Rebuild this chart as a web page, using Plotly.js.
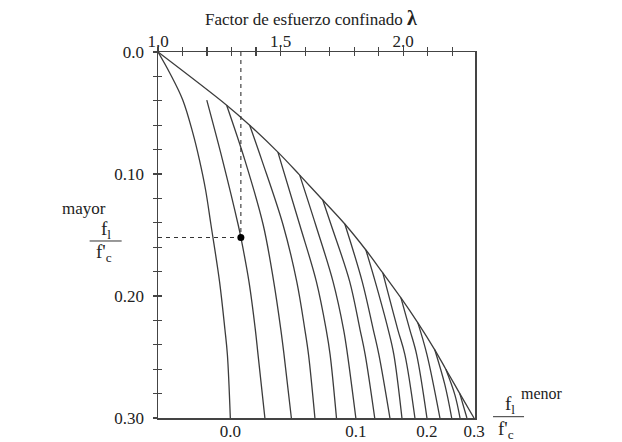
<!DOCTYPE html>
<html>
<head>
<meta charset="utf-8">
<script src="https://cdn.plot.ly/plotly-3.0.1.min.js"></script>
<style>
html,body{margin:0;padding:0;background:#fff;}
#chart{width:622px;height:442px;}
</style>
</head>
<body>
<div id="chart"></div>
<script>
// ---- data (x = confined strength factor λ, y = larger confining stress ratio) ----
const minorRatios = [0, 0.02, 0.04, 0.06, 0.08, 0.10, 0.12, 0.14, 0.16, 0.18, 0.20, 0.22, 0.24, 0.26, 0.28];

const curveLambda = [
  [1.000, 1.048, 1.101, 1.142, 1.169, 1.194, 1.216, 1.251, 1.273, 1.283, 1.295],
  [1.199, 1.263, 1.327, 1.338, 1.371, 1.397, 1.408, 1.436],
  [1.280, 1.354, 1.429, 1.472, 1.501, 1.514, 1.544],
  [1.374, 1.423, 1.510, 1.566, 1.599, 1.614, 1.640],
  [1.489, 1.578, 1.646, 1.686, 1.702, 1.728],
  [1.578, 1.643, 1.714, 1.757, 1.773, 1.807],
  [1.672, 1.706, 1.782, 1.824, 1.845, 1.884],
  [1.762, 1.833, 1.878, 1.901, 1.946],
  [1.848, 1.886, 1.939, 1.962, 1.995],
  [1.917, 1.978, 2.007, 2.048],
  [1.991, 2.027, 2.055, 2.097],
  [2.060, 2.097, 2.150],
  [2.129, 2.170, 2.198],
  [2.174, 2.211, 2.232],
  [2.231, 2.260]
];
const curveMajor = [
  [0.000, 0.0172, 0.0393, 0.0663, 0.0884, 0.1129, 0.1416, 0.1882, 0.2275, 0.2480, 0.300],
  [0.0395, 0.0884, 0.1416, 0.1520, 0.1882, 0.2275, 0.2480, 0.300],
  [0.0436, 0.0884, 0.1416, 0.1882, 0.2275, 0.2480, 0.300],
  [0.0600, 0.0884, 0.1416, 0.1882, 0.2275, 0.2480, 0.300],
  [0.0821, 0.1416, 0.1882, 0.2275, 0.2480, 0.300],
  [0.1009, 0.1416, 0.1882, 0.2275, 0.2480, 0.300],
  [0.1213, 0.1416, 0.1882, 0.2275, 0.2480, 0.300],
  [0.1410, 0.1882, 0.2275, 0.2480, 0.300],
  [0.1623, 0.1882, 0.2275, 0.2480, 0.300],
  [0.1811, 0.2275, 0.2480, 0.300],
  [0.2016, 0.2275, 0.2480, 0.300],
  [0.2220, 0.2480, 0.300],
  [0.2441, 0.2727, 0.300],
  [0.2600, 0.2810, 0.300],
  [0.2800, 0.300]
];

const envelopeLambda = [1.000, 1.280, 1.374, 1.489, 1.578, 1.672, 1.762, 1.848, 1.917, 1.991, 2.060, 2.129, 2.174, 2.231, 2.289];
const envelopeMajor  = [0.000, 0.0436, 0.0600, 0.0821, 0.1009, 0.1213, 0.1410, 0.1623, 0.1811, 0.2016, 0.2220, 0.2441, 0.2600, 0.2800, 0.300];

const exampleLambda = 1.338;
const exampleMajor = 0.152;

const topTickVals = [1.0, 1.1, 1.2, 1.3, 1.4, 1.5, 1.6, 1.7, 1.8, 1.9, 2.0, 2.1, 2.2];
const topTickText = ["1.0", "", "", "", "", "1.5", "", "", "", "", "2.0", "", ""];
const leftTickVals = [0, 0.02, 0.04, 0.06, 0.08, 0.10, 0.12, 0.14, 0.16, 0.18, 0.20, 0.22, 0.24, 0.26, 0.28, 0.30];
const leftTickText = ["0.0", "", "", "", "", "0.10", "", "", "", "", "0.20", "", "", "", "", "0.30"];
const bottomTickRatios = [0, 0.1, 0.2, 0.3];
const bottomTickText = ["0.0", "0.1", "0.2", "0.3"];

// ---- build ----
const lineColor = '#3c3c3c';
const axisColor = '#444';
const fontFam = 'Liberation Serif';
const traces = [];

traces.push({
  x: envelopeLambda, y: envelopeMajor, type: 'scatter', mode: 'lines',
  line: {color: lineColor, width: 1.3, shape: 'spline', smoothing: 1},
  hoverinfo: 'skip', showlegend: false
});
curveLambda.forEach((lx, i) => {
  traces.push({
    x: lx, y: curveMajor[i], type: 'scatter', mode: 'lines',
    name: 'menor ' + minorRatios[i],
    line: {color: lineColor, width: 1.3, shape: 'spline', smoothing: 1},
    hoverinfo: 'skip', showlegend: false
  });
});
// dashed guides to the example point
traces.push({x: [exampleLambda, exampleLambda], y: [0, exampleMajor], type: 'scatter', mode: 'lines',
  line: {color: '#333', width: 1.1, dash: '4px,4px'}, hoverinfo: 'skip', showlegend: false});
traces.push({x: [1.0, exampleLambda], y: [exampleMajor, exampleMajor], type: 'scatter', mode: 'lines',
  line: {color: '#333', width: 1.1, dash: '4px,4px'}, hoverinfo: 'skip', showlegend: false});
traces.push({x: [exampleLambda], y: [exampleMajor], type: 'scatter', mode: 'markers',
  marker: {color: '#000', size: 7}, hoverinfo: 'skip', showlegend: false});
// empty traces to activate helper axes
traces.push({x: [], y: [], xaxis: 'x2', yaxis: 'y', showlegend: false, hoverinfo: 'skip'});
traces.push({x: [], y: [], xaxis: 'x3', yaxis: 'y2', showlegend: false, hoverinfo: 'skip'});

// bottom tick positions = where the labelled curves reach the bottom
const bottomTickVals = bottomTickRatios.map(r => {
  const idx = minorRatios.findIndex(m => Math.abs(m - r) < 1e-9);
  if (idx >= 0) { const a = curveLambda[idx]; return a[a.length - 1]; }
  return envelopeLambda[envelopeLambda.length - 1];
});

const X0 = 158.3, X1 = 475, Y0 = 51.7, Y1 = 418.3;
const px = X => (X - X0) / (X1 - X0);
const py = Y => (Y1 - Y) / (Y1 - Y0);
const lamMax = envelopeLambda[envelopeLambda.length - 1] + 0.004;

const txt = (t, X, Y, size, anchor) => ({
  text: t, xref: 'paper', yref: 'paper', x: px(X), y: py(Y),
  xanchor: anchor || 'center', yanchor: 'middle', showarrow: false,
  font: {family: fontFam, size: size, color: '#222'}
});

const layout = {
  width: 622, height: 442,
  margin: {l: X0, r: 622 - X1, t: Y0, b: 442 - Y1, pad: 0},
  paper_bgcolor: '#fff', plot_bgcolor: '#fff',
  showlegend: false,
  font: {family: fontFam, size: 17, color: '#222'},
  xaxis: {
    side: 'top', range: [1.0, lamMax], tickmode: 'array', tickvals: topTickVals, ticktext: topTickText,
    ticks: 'inside', ticklen: 4, tickwidth: 1.2, tickcolor: axisColor,
    showline: true, linecolor: axisColor, linewidth: 1.5, mirror: true,
    showgrid: false, zeroline: false, ticklabelstandoff: -3, tickfont: {family: fontFam, size: 17, color: '#222'}
  },
  xaxis2: {
    overlaying: 'x', side: 'bottom', anchor: 'y', range: [1.0, lamMax], tickmode: 'array',
    tickvals: bottomTickVals, ticktext: bottomTickText, ticks: '', showline: false,
    showgrid: false, zeroline: false, ticklabelstandoff: 1, tickfont: {family: fontFam, size: 17, color: '#222'}
  },
  xaxis3: {
    overlaying: 'x', side: 'top', anchor: 'y2', range: [1.0, lamMax], tickmode: 'array',
    tickvals: topTickVals, ticks: 'outside', ticklen: 4, tickwidth: 1.2, tickcolor: axisColor,
    showticklabels: false, showline: false, showgrid: false, zeroline: false
  },
  yaxis: {
    range: [0.3, 0], tickmode: 'array', tickvals: leftTickVals, ticktext: leftTickText,
    ticks: 'outside', ticklen: 4, tickwidth: 1.2, tickcolor: axisColor,
    showline: true, linecolor: axisColor, linewidth: 1.5, mirror: true,
    showgrid: false, zeroline: false, ticklabelstandoff: 5, tickfont: {family: fontFam, size: 17, color: '#222'}
  },
  yaxis2: {
    overlaying: 'y', side: 'left', anchor: 'x3', range: [0.3, 0], tickmode: 'array',
    tickvals: leftTickVals, ticks: 'inside', ticklen: 4, tickwidth: 1.2, tickcolor: axisColor,
    showticklabels: false, showline: false, showgrid: false, zeroline: false
  },
  annotations: [
    txt('Factor de esfuerzo confinado <b><span style="font-size:20px">λ</span></b>', 311, 18, 17),
    txt('mayor', 84, 208, 17),
    txt('f<sub>l</sub>', 106, 230, 19),
    txt("f'<sub>c</sub>", 104, 253, 19),
    txt('f<sub>l</sub>', 510, 405, 19),
    txt('menor', 519, 394, 16, 'left'),
    txt("f'<sub>c</sub>", 506, 430, 19)
  ],
  shapes: [
    {type: 'line', xref: 'paper', yref: 'paper', x0: px(90), x1: px(122), y0: py(241), y1: py(241),
     line: {color: '#333', width: 1}},
    {type: 'line', xref: 'paper', yref: 'paper', x0: px(493), x1: px(524), y0: py(417), y1: py(417),
     line: {color: '#333', width: 1}}
  ]
};

Plotly.newPlot('chart', traces, layout, {displayModeBar: false, staticPlot: true});
</script>
</body>
</html>
